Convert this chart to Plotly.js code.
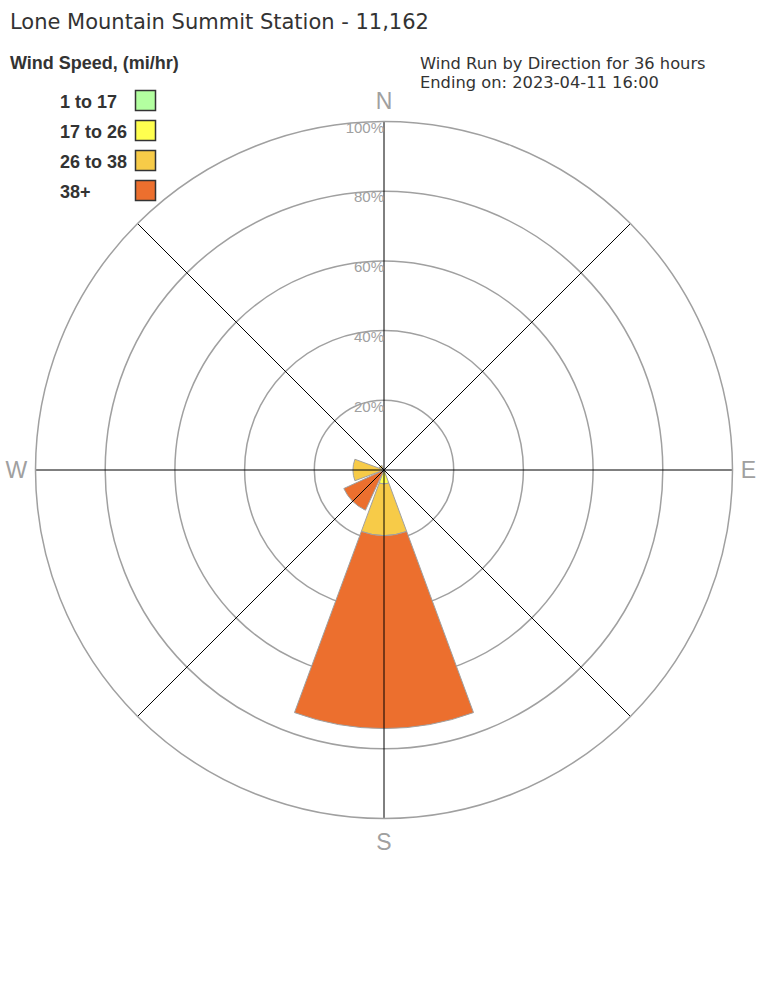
<!DOCTYPE html>
<html>
<head>
<meta charset="utf-8">
<script src="https://cdn.plot.ly/plotly-3.0.1.min.js"></script>
<style>html,body{margin:0;padding:0;background:#fff}#chart{width:768px;height:1008px}</style>
</head>
<body>
<div id="chart"></div>
<script>
// ---- data ----
const directions = ["N", "NE", "E", "SE", "S", "SW", "W", "NW"];
const directionAngles = [0, 45, 90, 135, 180, 225, 270, 315];
const speedBins = ["1 to 17", "17 to 26", "26 to 38", "38+"];
const speedColors = ["#b3ffa0", "#ffff4f", "#f7cb48", "#ec6f2e"];
const pct_1_17  = [0, 0, 0, 0, 0.0, 0.0, 0.0, 0.0];
const pct_17_26 = [0, 0, 0, 0, 4.0, 0.0, 0.0, 0.0];
const pct_26_38 = [0, 0, 0, 0, 14.8, 0.0, 8.9, 1.5];
const pct_38p   = [0, 0, 0, 0, 55.4, 12.7, 0.0, 0.0];
const seriesValues = [pct_1_17, pct_17_26, pct_26_38, pct_38p];
const radialTicks = [20, 40, 60, 80, 100];
const radialTickLabels = ["20%", "40%", "60%", "80%", "100%"];
const cardinalLabels = ["N", "", "E", "", "S", "", "W", ""];
const titleText = "Lone Mountain Summit Station - 11,162";
const legendTitle = "Wind Speed, (mi/hr)";
const subtitleLines = ["Wind Run by Direction for 36 hours", "Ending on: 2023-04-11 16:00"];

// ---- layout helpers ----
const W = 768, H = 1008;
const px = x => x / W;
const py = y => 1 - y / H;
const cx = 384, cy = 470, R = 348.5;
const REG = "DejaVu Sans, Liberation Sans, Arial, sans-serif";
const BOLD = "Liberation Sans, Arial, sans-serif";

const traces = [];
seriesValues.forEach((vals, i) => {
  traces.push({
    type: "barpolar",
    r: vals,
    theta: directionAngles,
    name: speedBins[i],
    marker: {color: speedColors[i], line: {color: "#a0a0a0", width: 1}},
    hoverinfo: "skip",
    showlegend: false
  });
});

// spokes drawn on top of the bars
const spokeR = [], spokeT = [];
directionAngles.forEach(a => { spokeR.push(0, radialTicks[radialTicks.length - 1], null); spokeT.push(a, a, null); });
traces.push({
  type: "scatterpolar", mode: "lines", r: spokeR, theta: spokeT,
  line: {color: "#000", width: 1}, hoverinfo: "skip", showlegend: false
});

// radial tick labels
traces.push({
  type: "scatterpolar", mode: "text",
  r: radialTicks, theta: radialTicks.map(() => 0),
  text: radialTickLabels, textposition: "bottom left",
  marker: {size: 0},
  textfont: {family: "Liberation Sans, Arial, sans-serif", size: 15, color: "#a0a0a0"},
  hoverinfo: "skip", showlegend: false
});

const annotations = [
  {text: titleText, x: px(8), y: py(22), xref: "paper", yref: "paper", xanchor: "left", yanchor: "middle",
   showarrow: false, font: {family: REG, size: 21, color: "#333"}},
  {text: "<b>" + legendTitle + "</b>", x: px(8), y: py(63), xref: "paper", yref: "paper", xanchor: "left", yanchor: "middle",
   showarrow: false, font: {family: BOLD, size: 18, color: "#333"}},
  {text: subtitleLines[0], x: px(418), y: py(63), xref: "paper", yref: "paper", xanchor: "left", yanchor: "middle",
   showarrow: false, font: {family: REG, size: 16.3, color: "#333"}},
  {text: subtitleLines[1], x: px(418), y: py(82), xref: "paper", yref: "paper", xanchor: "left", yanchor: "middle",
   showarrow: false, font: {family: REG, size: 16.3, color: "#333"}}
];
const shapes = [];
speedBins.forEach((lab, i) => {
  const yc = 100.5 + 30 * i;
  annotations.push({text: "<b>" + lab + "</b>", x: px(58), y: py(yc + 1.5), xref: "paper", yref: "paper",
    xanchor: "left", yanchor: "middle", showarrow: false,
    font: {family: BOLD, size: 18, color: "#333"}});
  shapes.push({type: "rect", xref: "paper", yref: "paper",
    x0: px(135.5), x1: px(155.5), y0: py(yc - 10), y1: py(yc + 10),
    fillcolor: speedColors[i], line: {color: "#333", width: 1.5}});
});

const layout = {
  width: W, height: H,
  margin: {l: 0, r: 0, t: 0, b: 0},
  paper_bgcolor: "#fff",
  showlegend: false,
  annotations: annotations,
  shapes: shapes,
  polar: {
    domain: {x: [px(cx - R), px(cx + R)], y: [py(cy + R), py(cy - R)]},
    bgcolor: "rgba(0,0,0,0)",
    barmode: "stack",
    radialaxis: {range: [0, 100], tickvals: radialTicks, showticklabels: false, ticks: "",
      showline: false, showgrid: true, gridcolor: "#a0a0a0", gridwidth: 1.5},
    angularaxis: {rotation: 90, direction: "clockwise", tickmode: "array",
      tickvals: directionAngles, ticktext: cardinalLabels, ticks: "outside", ticklen: 3,
      tickcolor: "rgba(0,0,0,0)",
      showgrid: false, showline: true, linecolor: "#a0a0a0", linewidth: 1.5,
      tickfont: {family: "Liberation Sans, Arial, sans-serif", size: 23, color: "#a0a0a0"}}
  }
};

Plotly.newPlot("chart", traces, layout, {staticPlot: true, displayModeBar: false});
</script>
</body>
</html>
